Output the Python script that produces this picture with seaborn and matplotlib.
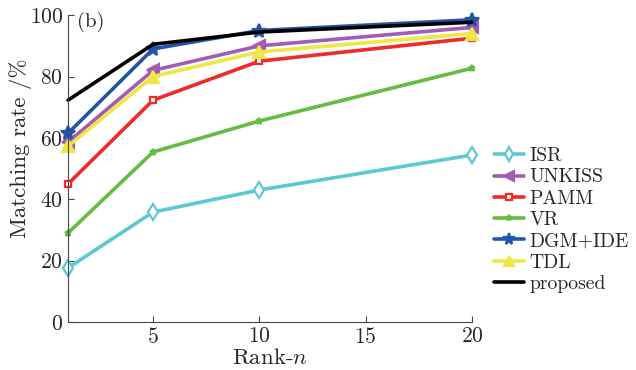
import matplotlib
matplotlib.use("Agg")
import matplotlib.pyplot as plt
import seaborn as sns
import pandas as pd

ranks = [1, 5, 10, 20]
isr = [17.6, 35.8, 43.0, 54.4]
unkiss = [58.6, 82.0, 90.0, 96.0]
pamm = [45.0, 72.3, 85.0, 92.5]
vr = [29.0, 55.4, 65.5, 82.7]
dgm_ide = [61.5, 89.0, 95.0, 98.5]
tdl = [57.3, 80.0, 88.0, 94.0]
proposed = [72.3, 90.5, 94.5, 97.7]

names = ["ISR", "UNKISS", "PAMM", "VR", "DGM+IDE", "TDL", "proposed"]
series = [isr, unkiss, pamm, vr, dgm_ide, tdl, proposed]
colors = ["#5cc8d4", "#a35bb3", "#ee2a2a", "#66bb44", "#2255a8", "#eee845", "#000000"]
markers = ["d", "<", "s", "*", "*", "^", None]
msizes = [8, 8, 5, 5, 10, 9, 0]
mfcs = ["white", None, "white", None, None, None, None]

sns.set_style("ticks")
plt.rcParams["font.family"] = ["cmr10", "DejaVu Serif"]
plt.rcParams["mathtext.fontset"] = "cm"
plt.rcParams["axes.formatter.use_mathtext"] = True

fig = plt.figure(figsize=(6.36, 3.70), dpi=100)
ax = fig.add_axes([0.107, 0.13, 0.635, 0.829])

rows = []
for n, vals in zip(names, series):
    for r, v in zip(ranks, vals):
        rows.append({"rank": r, "rate": v, "method": n})
df = pd.DataFrame(rows)

for i, n in enumerate(names):
    sub = df[df["method"] == n]
    kw = dict(color=colors[i], linewidth=2.6, label=n, clip_on=False)
    if markers[i]:
        kw.update(marker=markers[i], markersize=msizes[i], markeredgecolor=colors[i],
                  markeredgewidth=1.6)
        if mfcs[i]:
            kw.update(markerfacecolor=mfcs[i])
    sns.lineplot(data=sub, x="rank", y="rate", ax=ax, **kw)

ax.set_xlim(1, 20)
ax.set_ylim(0, 100)
ax.set_xticks([5, 10, 15, 20])
ax.set_yticks([0, 20, 40, 60, 80, 100])
ax.tick_params(direction="in", labelsize=15.5, length=4, color="#444444")
for s in ["top", "right"]:
    ax.spines[s].set_visible(False)
for s in ["left", "bottom"]:
    ax.spines[s].set_color("#444444")
ax.set_xlabel("Rank-$n$", fontsize=16.5, labelpad=1)
ax.set_ylabel("Matching rate /%", fontsize=16.5, labelpad=-2)
ax.yaxis.label.set_y(0.565)
ax.text(0.022, 1.01, "(b)", transform=ax.transAxes, fontsize=15, va="top", ha="left")

leg = ax.legend(loc="center left", bbox_to_anchor=(1.055, 0.332), frameon=False, fontsize=14.2,
                handlelength=1.5, handletextpad=0.3, labelspacing=0.17, borderaxespad=0,
                borderpad=0, markerscale=0.85)

fig.savefig("out.png", dpi=100)
